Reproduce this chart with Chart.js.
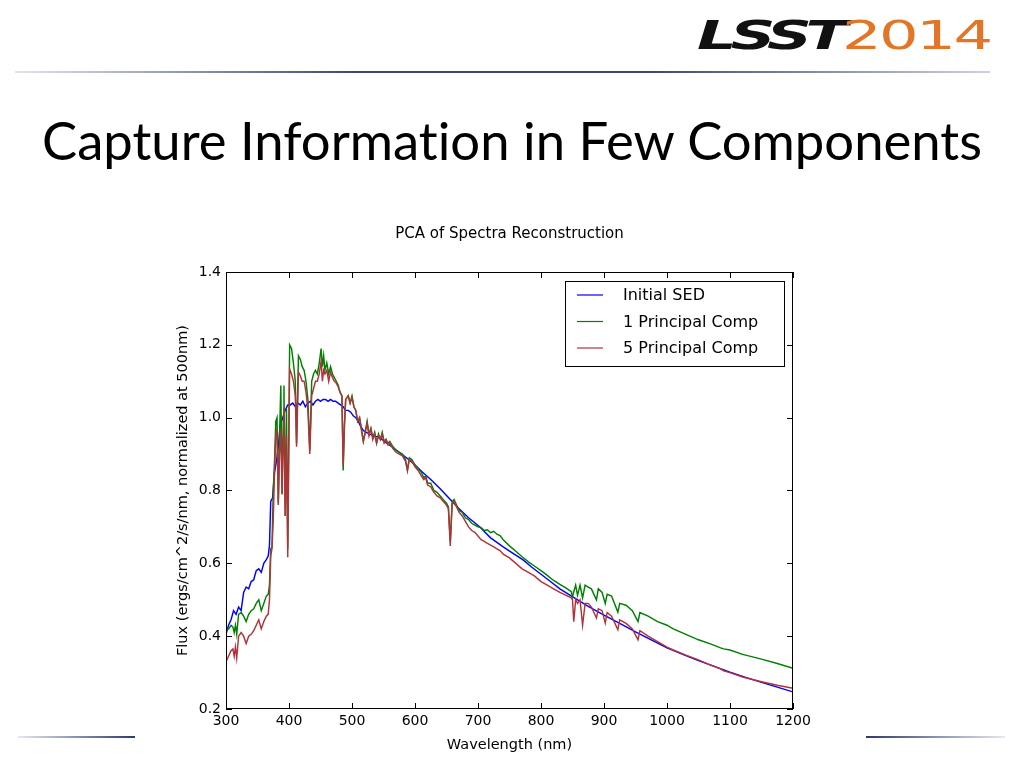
<!DOCTYPE html>
<html lang="en">
<head>
  <meta charset="UTF-8" />
  <title>Capture Information in Few Components</title>
  <script src="https://cdn.jsdelivr.net/npm/chart.js"></script>
  <style>
    body {
      margin: 0;
      width: 1024px;
      height: 768px;
      background: #fff;
      position: relative;
      overflow: hidden;
      font-family: Lato, 'Open Sans', sans-serif;
    }
    .logo {
      position: absolute;
      left: 697px;
      top: 14px;
      white-space: nowrap;
      transform-origin: 0 0;
      line-height: 56px;
    }
    .logo .lsst {
      font-family: 'DejaVu Sans';
      font-weight: bold;
      font-style: italic;
      font-size: 50px;
      color: #111;
      letter-spacing: -5px;
    }
    .logo .year {
      font-family: 'DejaVu Sans';
      font-size: 50px;
      color: #e27526;
      letter-spacing: -2px;
    }
    .rule { position: absolute; height: 2px; }
    #topRule {
      left: 15px; top: 71px; width: 975px;
      background: linear-gradient(to right, #e4e5ea, #3b4775 35%, #3b4775 65%, #cfd2dc);
    }
    #botLeft {
      left: 18px; top: 736px; width: 117px;
      background: linear-gradient(to right, #e6e8ee, #2c3a70);
    }
    #botRight {
      left: 866px; top: 736px; width: 139px;
      background: linear-gradient(to right, #2c3a70, #e6e8ee);
    }
    h1 {
      position: absolute;
      left: 0;
      width: 1024px;
      margin: 0;
      text-align: center;
      font-weight: normal;
      color: #000;
      white-space: nowrap;
      font-variant-ligatures: none;
    }
    .chart-box {
      position: absolute;
      left: 140px;
      top: 200px;
      width: 680px;
      height: 560px;
    }
  </style>
</head>
<body>
  <div class="logo" id="logo"><span class="lsst">LSST</span><span class="year">2014</span></div>
  <div class="rule" id="topRule"></div>
  <h1 id="slideTitle"><span id="titleText">Capture Information in Few Components</span></h1>
  <div class="chart-box"><canvas id="pcaChart"></canvas></div>
  <div class="rule" id="botLeft"></div>
  <div class="rule" id="botRight"></div>

  <script>
    // fit the slide title and logo to the widths in the slide
    const titleEl = document.getElementById('slideTitle');
    const titleText = document.getElementById('titleText');
    let fs = 48;
    titleEl.style.fontSize = fs + 'px';
    fs = fs * 940 / titleText.getBoundingClientRect().width;
    titleEl.style.fontSize = fs + 'px';
    titleEl.style.lineHeight = fs + 'px';
    titleEl.style.top = (143 - fs * 0.55) + 'px';

    const logo = document.getElementById('logo');
    logo.style.transform = 'scale(' + (293 / logo.scrollWidth) + ', 0.78)';

    const seriesLabels = ['Initial SED', '1 Principal Comp', '5 Principal Comp'];
    const seriesColors = ['#0000ff', '#008000', '#b0333a'];
    const xTicks = [300, 400, 500, 600, 700, 800, 900, 1000, 1100, 1200];
    const yTicks = [0.2, 0.4, 0.6, 0.8, 1.0, 1.2, 1.4];

    const sedWavelength = [300, 304, 308, 312, 316, 320, 324, 328, 332, 336,
      340, 344, 348, 352, 356, 360, 364, 367, 369, 371,
      374, 377, 380, 383, 386, 390, 394, 398, 402, 406,
      410, 414, 418, 422, 426, 430, 434, 438, 442, 446,
      450, 454, 458, 462, 466, 470, 474, 478, 482, 486,
      490, 494, 498, 502, 506, 510, 514, 518, 522, 528,
      535, 544, 555, 565, 575, 590, 600, 612, 625, 640,
      656, 670, 685, 703, 720, 740, 755, 771, 785, 800,
      815, 830, 851, 875, 900, 925, 950, 975, 1000, 1025,
      1050, 1075, 1100, 1125, 1150, 1175, 1200];
    const sedFlux = [0.405, 0.43, 0.445, 0.47, 0.46, 0.48, 0.47, 0.52, 0.535, 0.53,
      0.55, 0.555, 0.58, 0.585, 0.575, 0.60, 0.61, 0.62, 0.65, 0.77,
      0.78, 0.85, 0.88, 0.92, 0.98, 1.00, 1.02, 1.035, 1.035, 1.04,
      1.03, 1.04, 1.035, 1.045, 1.03, 1.04, 1.045, 1.035, 1.045, 1.05,
      1.045, 1.05, 1.05, 1.045, 1.05, 1.045, 1.045, 1.04, 1.035, 1.03,
      1.02, 1.02, 1.015, 1.005, 1.0, 0.99, 0.975, 0.965, 0.96, 0.955,
      0.95, 0.945, 0.93, 0.918, 0.905, 0.885, 0.87, 0.85, 0.83, 0.805,
      0.775, 0.75, 0.725, 0.70, 0.67, 0.645, 0.628, 0.61, 0.59, 0.57,
      0.55, 0.53, 0.507, 0.482, 0.458, 0.435, 0.412, 0.39, 0.368, 0.35,
      0.333, 0.317, 0.301, 0.287, 0.273, 0.26, 0.247];

    const pcWavelength = [300, 304, 308, 311, 313, 315, 317, 320, 324, 328,
      332, 336, 340, 344, 348, 352, 356, 360, 364, 367,
      369, 371, 373, 375, 377, 379, 381, 383, 385, 387,
      389, 391, 392, 394, 396, 398, 401, 404, 407, 410,
      412, 415, 418, 421, 424, 427, 430, 433, 436, 439,
      442, 445, 448, 451, 453, 455, 457, 460, 463, 466,
      469, 472, 475, 478, 481, 484, 486, 488, 490, 494,
      497, 500, 503, 506, 509, 512, 515, 518, 521, 524,
      527, 530, 533, 536, 539, 542, 545, 548, 551, 554,
      557, 560, 565, 570, 575, 580, 585, 588, 591, 595,
      600, 605, 610, 614, 617, 620, 625, 630, 635, 640,
      645, 650, 653, 656, 659, 662, 666, 670, 675, 680,
      685, 690, 695, 700, 705, 710, 715, 720, 725, 730,
      735, 740, 750, 760, 770, 780, 790, 800, 810, 820,
      830, 840, 848, 850, 852, 855, 858, 862, 866, 870,
      875, 880, 888, 891, 897, 902, 905, 912, 922, 925,
      935, 945, 954, 957, 970, 985, 1000, 1010, 1030, 1050,
      1070, 1085, 1090, 1100, 1120, 1150, 1175, 1200];
    const onePcFlux = [0.415, 0.420, 0.430, 0.425, 0.410, 0.430, 0.405, 0.460, 0.465, 0.455,
      0.440, 0.460, 0.470, 0.475, 0.490, 0.500, 0.470, 0.490, 0.510, 0.515,
      0.540, 0.640, 0.645, 0.800, 0.880, 0.990, 1.000, 0.765, 0.950, 1.088,
      0.790, 1.000, 1.088, 0.730, 1.025, 0.640, 1.200, 1.190, 1.150, 1.100,
      0.930, 1.170, 1.160, 1.140, 1.130, 1.100, 1.050, 0.910, 1.100, 1.120,
      1.130, 1.120, 1.150, 1.190, 1.140, 1.170, 1.130, 1.150, 1.120, 1.140,
      1.120, 1.110, 1.100, 1.090, 1.070, 1.060, 0.855, 0.980, 1.050, 1.060,
      1.040, 1.060, 1.030, 1.020, 0.990, 1.000, 0.970, 0.935, 0.960, 0.990,
      0.955, 0.970, 0.945, 0.960, 0.930, 0.955, 0.940, 0.960, 0.935, 0.940,
      0.930, 0.935, 0.920, 0.910, 0.905, 0.900, 0.885, 0.855, 0.890, 0.885,
      0.870, 0.860, 0.850, 0.835, 0.840, 0.820, 0.820, 0.800, 0.795, 0.785,
      0.775, 0.765, 0.755, 0.660, 0.770, 0.775, 0.760, 0.745, 0.740, 0.725,
      0.720, 0.710, 0.705, 0.700, 0.698, 0.690, 0.692, 0.684, 0.688, 0.680,
      0.676, 0.665, 0.648, 0.633, 0.618, 0.604, 0.592, 0.580, 0.567, 0.553,
      0.542, 0.532, 0.522, 0.508, 0.522, 0.540, 0.512, 0.540, 0.505, 0.540,
      0.535, 0.530, 0.500, 0.530, 0.520, 0.490, 0.515, 0.510, 0.466, 0.490,
      0.485, 0.470, 0.440, 0.465, 0.455, 0.440, 0.430, 0.420, 0.405, 0.390,
      0.378, 0.368, 0.365, 0.362, 0.350, 0.337, 0.325, 0.312];
    const fivePcFlux = [0.330, 0.345, 0.360, 0.365, 0.345, 0.370, 0.340, 0.400, 0.410, 0.400,
      0.380, 0.400, 0.405, 0.415, 0.430, 0.445, 0.420, 0.440, 0.455, 0.460,
      0.500, 0.620, 0.640, 0.720, 0.850, 0.950, 0.970, 0.760, 0.900, 0.965,
      0.790, 0.950, 1.027, 0.730, 0.950, 0.617, 1.134, 1.120, 1.100, 1.060,
      0.920, 1.125, 1.115, 1.100, 1.100, 1.070, 1.020, 0.900, 1.060, 1.080,
      1.100, 1.100, 1.120, 1.155, 1.100, 1.130, 1.120, 1.130, 1.100, 1.125,
      1.110, 1.100, 1.095, 1.085, 1.070, 1.060, 0.870, 0.980, 1.050, 1.060,
      1.040, 1.055, 1.030, 1.020, 0.990, 1.000, 0.965, 0.935, 0.960, 0.985,
      0.950, 0.970, 0.940, 0.955, 0.930, 0.950, 0.940, 0.955, 0.930, 0.940,
      0.925, 0.930, 0.915, 0.905, 0.900, 0.895, 0.880, 0.855, 0.885, 0.880,
      0.865, 0.855, 0.840, 0.830, 0.835, 0.815, 0.810, 0.795, 0.785, 0.780,
      0.770, 0.760, 0.750, 0.648, 0.765, 0.770, 0.755, 0.740, 0.730, 0.715,
      0.700, 0.690, 0.685, 0.675, 0.665, 0.660, 0.655, 0.650, 0.645, 0.640,
      0.635, 0.625, 0.615, 0.600, 0.585, 0.575, 0.565, 0.550, 0.540, 0.530,
      0.520, 0.512, 0.505, 0.500, 0.440, 0.500, 0.490, 0.500, 0.430, 0.490,
      0.490, 0.480, 0.450, 0.475, 0.470, 0.436, 0.465, 0.455, 0.418, 0.445,
      0.435, 0.420, 0.390, 0.415, 0.400, 0.385, 0.370, 0.362, 0.348, 0.335,
      0.320, 0.310, 0.305, 0.300, 0.288, 0.275, 0.265, 0.257];

    const toPoints = (xs, ys) => xs.map((x, i) => ({ x, y: ys[i] }));
    const mplFont = (size) => ({ family: "'DejaVu Sans', sans-serif", size, weight: 'normal' });

    // matplotlib style: frame, inward ticks on all sides, boxed legend inside the axes
    const mplFrame = {
      id: 'mplFrame',
      afterDatasetsDraw(chart) {
        const { ctx, chartArea: a, scales: { x, y } } = chart;
        ctx.save();
        ctx.strokeStyle = '#000';
        ctx.lineWidth = 1;
        ctx.beginPath();
        xTicks.forEach(v => {
          const px = Math.round(x.getPixelForValue(v)) + 0.5;
          ctx.moveTo(px, a.bottom); ctx.lineTo(px, a.bottom - 6);
          ctx.moveTo(px, a.top); ctx.lineTo(px, a.top + 6);
        });
        yTicks.forEach(v => {
          const py = Math.round(y.getPixelForValue(v)) + 0.5;
          ctx.moveTo(a.left, py); ctx.lineTo(a.left + 6, py);
          ctx.moveTo(a.right, py); ctx.lineTo(a.right - 6, py);
        });
        ctx.stroke();
        ctx.strokeRect(Math.round(a.left) + 0.5, Math.round(a.top) + 0.5,
          Math.round(a.width) - 1, Math.round(a.height) - 1);

        const bx = Math.round(a.right) - 228, by = Math.round(a.top) + 9;
        ctx.fillStyle = '#fff';
        ctx.fillRect(bx, by, 219, 85);
        ctx.strokeRect(bx + 0.5, by + 0.5, 219, 85);
        ctx.font = "16px 'DejaVu Sans', sans-serif";
        ctx.textBaseline = 'middle';
        chart.data.datasets.forEach((ds, i) => {
          const ry = by + 14 + i * 26.5;
          ctx.strokeStyle = ds.borderColor;
          ctx.lineWidth = 1.2;
          ctx.beginPath();
          ctx.moveTo(bx + 12, ry); ctx.lineTo(bx + 38, ry);
          ctx.stroke();
          ctx.fillStyle = '#000';
          ctx.fillText(ds.label, bx + 58, ry + 1);
        });
        ctx.restore();
      }
    };

    const fluxSeries = [toPoints(sedWavelength, sedFlux), toPoints(pcWavelength, onePcFlux), toPoints(pcWavelength, fivePcFlux)];

    new Chart(document.getElementById('pcaChart'), {
      type: 'line',
      data: {
        datasets: fluxSeries.map((pts, i) => ({
          label: seriesLabels[i],
          data: pts,
          borderColor: seriesColors[i],
          borderWidth: 1.45,
          pointRadius: 0,
          fill: false,
          tension: 0,
          order: 3 - i
        }))
      },
      options: {
        responsive: true,
        maintainAspectRatio: false,
        animation: false,
        layout: { padding: { left: 0, right: 27, top: 0, bottom: 0 } },
        plugins: {
          legend: { display: false },
          tooltip: { enabled: false },
          title: {
            display: true,
            text: 'PCA of Spectra Reconstruction',
            color: '#000',
            font: mplFont(15),
            fullSize: false,
            padding: { top: 25.6, bottom: 28.4 }
          }
        },
        scales: {
          x: {
            type: 'linear',
            min: 300,
            max: 1200,
            afterBuildTicks: s => { s.ticks = xTicks.map(v => ({ value: v })); },
            afterFit: s => { s.height = 51; },
            ticks: { color: '#000', font: mplFont(14), padding: 4, maxRotation: 0, autoSkip: false, callback: v => String(v) },
            grid: { display: false, drawTicks: false },
            border: { display: false },
            title: { display: true, text: 'Wavelength (nm)', color: '#000', font: mplFont(14.5), padding: { top: 0, bottom: 6 } }
          },
          y: {
            min: 0.2,
            max: 1.4,
            afterBuildTicks: s => { s.ticks = yTicks.map(v => ({ value: v })); },
            afterFit: s => { s.width = 86; },
            ticks: { color: '#000', font: mplFont(14), padding: 5, callback: v => v.toFixed(1) },
            grid: { display: false, drawTicks: false },
            border: { display: false },
            title: { display: true, text: 'Flux (ergs/cm^2/s/nm, normalized at 500nm)', color: '#000', font: mplFont(14.5), padding: { top: 34.6, bottom: 0 } }
          }
        }
      },
      plugins: [mplFrame]
    });
  </script>
</body>
</html>
